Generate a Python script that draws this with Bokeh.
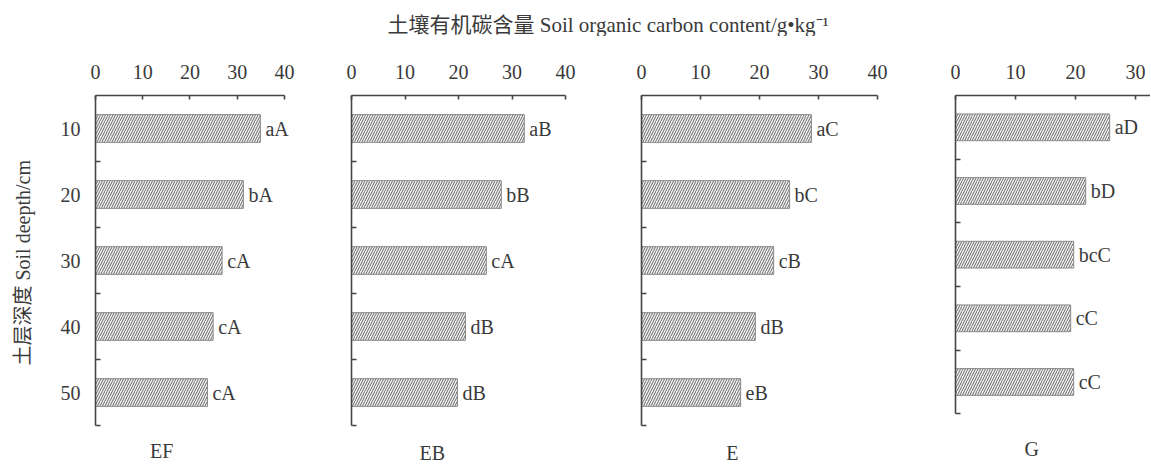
import math
from bokeh.plotting import figure
from bokeh.models import Range1d, FixedTicker, LabelSet, Label, ColumnDataSource
from bokeh.layouts import column, row
from bokeh.embed import file_html
from bokeh.resources import INLINE
from bokeh.core.properties import value

# ---------------- data ----------------
depths = [10, 20, 30, 40, 50]
panel_names = ["EF", "EB", "E", "G"]
ef_values = [34.9, 31.3, 26.8, 24.9, 23.7]
eb_values = [32.3, 28.0, 25.2, 21.3, 19.8]
e_values = [28.8, 25.1, 22.4, 19.3, 16.8]
g_values = [25.7, 21.7, 19.7, 19.2, 19.7]
ef_sig = ["aA", "bA", "cA", "cA", "cA"]
eb_sig = ["aB", "bB", "cA", "dB", "dB"]
e_sig = ["aC", "bC", "cB", "dB", "eB"]
g_sig = ["aD", "bD", "bcC", "cC", "cC"]
x_ticks_40 = [0, 10, 20, 30, 40]
x_ticks_g = [0, 10, 20, 30]
title_text = "土壤有机碳含量 Soil organic carbon content/g•kg⁻¹"
ylabel_text = "土层深度 Soil deepth/cm"

# ---------------- style ----------------
SERIF = "'Liberation Serif', 'Noto Sans CJK SC'"
TEXT = "#3a3a3a"
AXIS = "#454545"
TITLE_H = 36
PANEL_H = 429
LABEL_W = 40

bounds = [d + 5 for d in depths]          # category boundaries (ticks)
y_top, y_bot = depths[0] - 5, depths[-1] + 5


def make_panel(name, vals, sigs, axis_max, xmax, ybottom, xticks, width,
               bl, bt, name_x, name_y, first=False):
    p = figure(width=width, height=PANEL_H, output_backend="svg",
               toolbar_location=None, x_axis_location="above",
               x_range=Range1d(0, xmax), y_range=Range1d(ybottom, y_top),
               min_border_left=bl, min_border_right=0,
               min_border_top=bt, min_border_bottom=0)
    p.outline_line_color = None
    p.xgrid.visible = False
    p.ygrid.visible = False
    p.background_fill_color = "white"
    p.border_fill_color = "white"

    src = ColumnDataSource(dict(depth=depths, val=vals, sig=sigs))
    p.hbar(y="depth", right="val", left=0, height=4.2, source=src,
           fill_color="#f3f3f3", line_color="#8a8a8a", line_width=1,
           hatch_pattern="/", hatch_color="#666666", hatch_scale=5.0,
           hatch_weight=1.0)
    p.add_layout(LabelSet(x="val", y="depth", text="sig", source=src,
                          x_offset=5, text_align="left",
                          text_baseline="middle",
                          text_font=value(SERIF),
                          text_font_size="20px", text_color=TEXT))

    xa = p.xaxis[0]
    xa.ticker = FixedTicker(ticks=xticks)
    xa.bounds = (0, axis_max)
    xa.major_tick_in = 4
    xa.major_tick_out = 0
    xa.minor_tick_in = 0
    xa.minor_tick_out = 0
    xa.axis_line_color = AXIS
    xa.axis_line_width = 1.6
    xa.major_tick_line_color = AXIS
    xa.major_tick_line_width = 1.6
    xa.major_label_standoff = 17
    xa.major_label_text_font = SERIF
    xa.major_label_text_font_size = "20px"
    xa.major_label_text_color = TEXT

    ya = p.yaxis[0]
    ya.ticker = FixedTicker(ticks=depths if first else [], minor_ticks=bounds)
    ya.bounds = (y_top, y_bot)
    ya.major_tick_in = 0
    ya.major_tick_out = 0
    ya.minor_tick_in = 5
    ya.minor_tick_out = 0
    ya.axis_line_color = AXIS
    ya.axis_line_width = 1.6
    ya.minor_tick_line_color = AXIS
    ya.minor_tick_line_width = 1.6
    ya.major_label_standoff = 15
    ya.major_label_text_font = SERIF
    ya.major_label_text_font_size = "20px"
    ya.major_label_text_color = TEXT

    p.add_layout(Label(x=name_x, y=name_y, text=name, text_align="center",
                       text_baseline="middle", text_font=SERIF,
                       text_font_size="20px", text_color=TEXT))
    return p


p1 = make_panel(panel_names[0], ef_values, ef_sig, 40, 47.62, 61.06,
                x_ticks_40, 320 - LABEL_W, 95 - LABEL_W, 59, 14.0, 58.8,
                first=True)
p2 = make_panel(panel_names[1], eb_values, eb_sig, 40, 47.66, 61.06,
                x_ticks_40, 286, 31, 59, 15.1, 59.1)
p3 = make_panel(panel_names[2], e_values, e_sig, 40, 45.93, 61.06,
                x_ticks_40, 306, 35, 59, 15.4, 59.1)
p4 = make_panel(panel_names[3], g_values, g_sig, 32.5, 32.5, 63.12,
                x_ticks_g, 238, 43, 57, 12.7, 60.6)

# vertical axis title strip (left)
py = figure(width=LABEL_W, height=PANEL_H, output_backend="svg",
            toolbar_location=None, x_range=Range1d(0, LABEL_W),
            y_range=Range1d(0, PANEL_H), min_border=0)
py.axis.visible = False
py.grid.visible = False
py.outline_line_color = None
py.text(x=[22], y=[PANEL_H - (230 - TITLE_H)], text=[ylabel_text],
        angle=math.pi / 2, text_align="center", text_baseline="middle",
        text_font=value(SERIF), text_font_size="20px", text_color=TEXT)

# title strip (top)
pt = figure(width=1150, height=TITLE_H, output_backend="svg",
            toolbar_location=None,
            x_range=Range1d(0, 1150), y_range=Range1d(0, TITLE_H),
            min_border=0)
pt.axis.visible = False
pt.grid.visible = False
pt.outline_line_color = None
pt.text(x=[387], y=[12], text=[title_text], text_align="left",
        text_baseline="middle", text_font=value(SERIF),
        text_font_size="21px", text_color=TEXT)

layout = column(pt, row(py, p1, p2, p3, p4))
open("out.html", "w").write(file_html(layout, INLINE))
